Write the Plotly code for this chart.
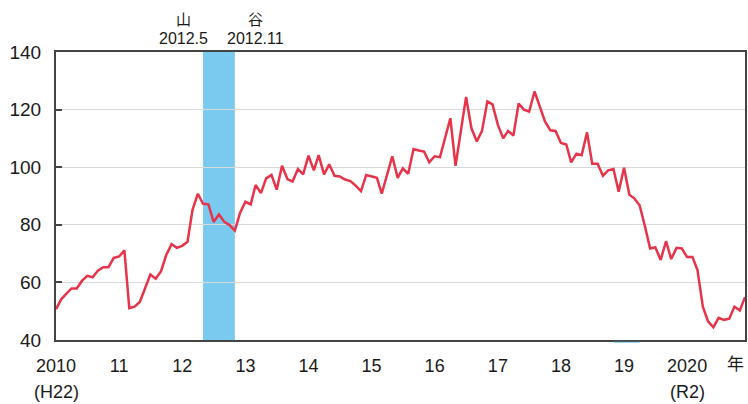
import pandas as pd
import plotly.graph_objects as go

# Monthly index values, 2010.01 - 2020.12
values = [
    50.7, 54.2, 56.0, 57.9, 57.9, 60.6, 62.3, 61.8, 64.1, 65.3, 65.3, 68.5,   # 2010
    69.0, 71.1, 51.1, 51.6, 53.2, 57.9, 62.7, 61.3, 63.9, 69.5, 73.3, 72.0,   # 2011
    72.7, 74.1, 85.2, 90.8, 87.3, 87.1, 81.0, 83.6, 81.0, 79.9, 78.0, 84.1,   # 2012
    88.0, 87.1, 93.8, 91.0, 96.1, 97.3, 92.2, 100.5, 95.9, 95.0, 99.4, 97.5,  # 2013
    104.0, 98.9, 104.2, 97.5, 101.0, 97.0, 96.8, 95.7, 95.2, 93.6, 91.7, 97.3, # 2014
    96.8, 96.3, 90.8, 97.3, 103.8, 96.3, 99.6, 97.7, 106.3, 105.8, 105.4, 101.7, # 2015
    103.8, 103.5, 109.8, 117.0, 100.5, 112.8, 124.4, 113.5, 108.9, 112.6, 122.8, 121.8, # 2016
    114.7, 110.0, 112.6, 111.0, 122.1, 120.0, 119.3, 126.3, 121.2, 115.8, 112.8, 112.6, # 2017
    108.4, 107.9, 101.7, 104.7, 104.2, 112.1, 101.2, 101.2, 97.0, 98.9, 99.4, 91.5,  # 2018
    99.8, 90.4, 89.2, 86.8, 79.7, 71.8, 72.2, 67.8, 74.3, 68.1, 72.0, 71.8,   # 2019
    68.8, 68.8, 64.3, 51.6, 46.5, 44.4, 47.7, 47.0, 47.4, 51.6, 50.2, 54.9,   # 2020
]
months = pd.date_range("2010-01-01", periods=len(values), freq="MS")

tick_years = list(range(2010, 2021))
tick_labels = ["2010", "11", "12", "13", "14", "15", "16", "17", "18", "19", "2020"]
tick_vals = [pd.Timestamp(f"{y}-01-01") for y in tick_years]
era_labels = {"2010-01-01": "(H22)", "2020-01-01": "(R2)"}

peak_date = "2012-05-01"
trough_date = "2012-11-01"
peak_label = ["山", "2012.5"]
trough_label = ["谷", "2012.11"]
# faint marker under the axis (as in the source figure)
mark_start, mark_end = "2018-11-01", "2019-04-01"

FONT = "Liberation Sans, Arial, sans-serif"
CJK = "Noto Sans CJK JP"
TXT = "#1a1a1a"
BAND = "#7ACAEF"

fig = go.Figure()
fig.add_vrect(x0=peak_date, x1=trough_date, fillcolor=BAND, opacity=1,
              line_width=0, layer="below")
fig.add_shape(type="line", xref="x", yref="paper", x0=mark_start, x1=mark_end,
              y0=-0.008, y1=-0.008, line=dict(color=BAND, width=1))
fig.add_trace(go.Scatter(x=months, y=values, mode="lines",
                         line=dict(color="#E8344A", width=2.5),
                         hoverinfo="skip", showlegend=False))

for d, lab, dx in [(peak_date, peak_label, -20), (trough_date, trough_label, 21)]:
    fig.add_annotation(x=d, y=1, xref="x", yref="paper", xshift=dx, yshift=34,
                       text=lab[0], showarrow=False, yanchor="middle",
                       font=dict(family=CJK, size=15, color=TXT))
    fig.add_annotation(x=d, y=1, xref="x", yref="paper", xshift=dx, yshift=14,
                       text=lab[1], showarrow=False, yanchor="middle",
                       font=dict(family=FONT, size=16, color=TXT))

for d, lab in era_labels.items():
    fig.add_annotation(x=d, y=0, xref="x", yref="paper", yshift=-52,
                       text=lab, showarrow=False, yanchor="middle", xanchor="center",
                       font=dict(family=FONT, size=18, color=TXT))

fig.add_annotation(x=1, y=0, xref="paper", yref="paper", xshift=-10, yshift=-22,
                   text="年", showarrow=False, xanchor="center", yanchor="middle",
                   font=dict(family=CJK, size=17, color=TXT))

fig.update_layout(
    width=748, height=404,
    margin=dict(l=56, r=3, t=52, b=64),
    plot_bgcolor="white", paper_bgcolor="white",
    font=dict(family=FONT, size=18, color=TXT),
    showlegend=False,
)
fig.update_xaxes(
    range=[months[0], months[-1]],
    tickvals=tick_vals, ticktext=tick_labels,
    showgrid=False, ticks="", showline=True, linecolor="#444", linewidth=2,
    mirror=True, tickfont=dict(size=18), ticklabelstandoff=8, automargin=False,
)
fig.update_yaxes(
    range=[40, 140], tickvals=[40, 60, 80, 100, 120, 140],
    showgrid=True, gridcolor="#d9d9d9", gridwidth=1,
    ticks="inside", ticklen=6, tickcolor="#444", tickwidth=1.5,
    showline=True, linecolor="#444", linewidth=2, mirror=True,
    tickfont=dict(size=19), ticklabelstandoff=9, zeroline=False, automargin=False,
)

fig.write_html("out.html", config={"displayModeBar": False},
               post_script="document.body.style.margin='0';document.body.style.overflow='hidden';")
